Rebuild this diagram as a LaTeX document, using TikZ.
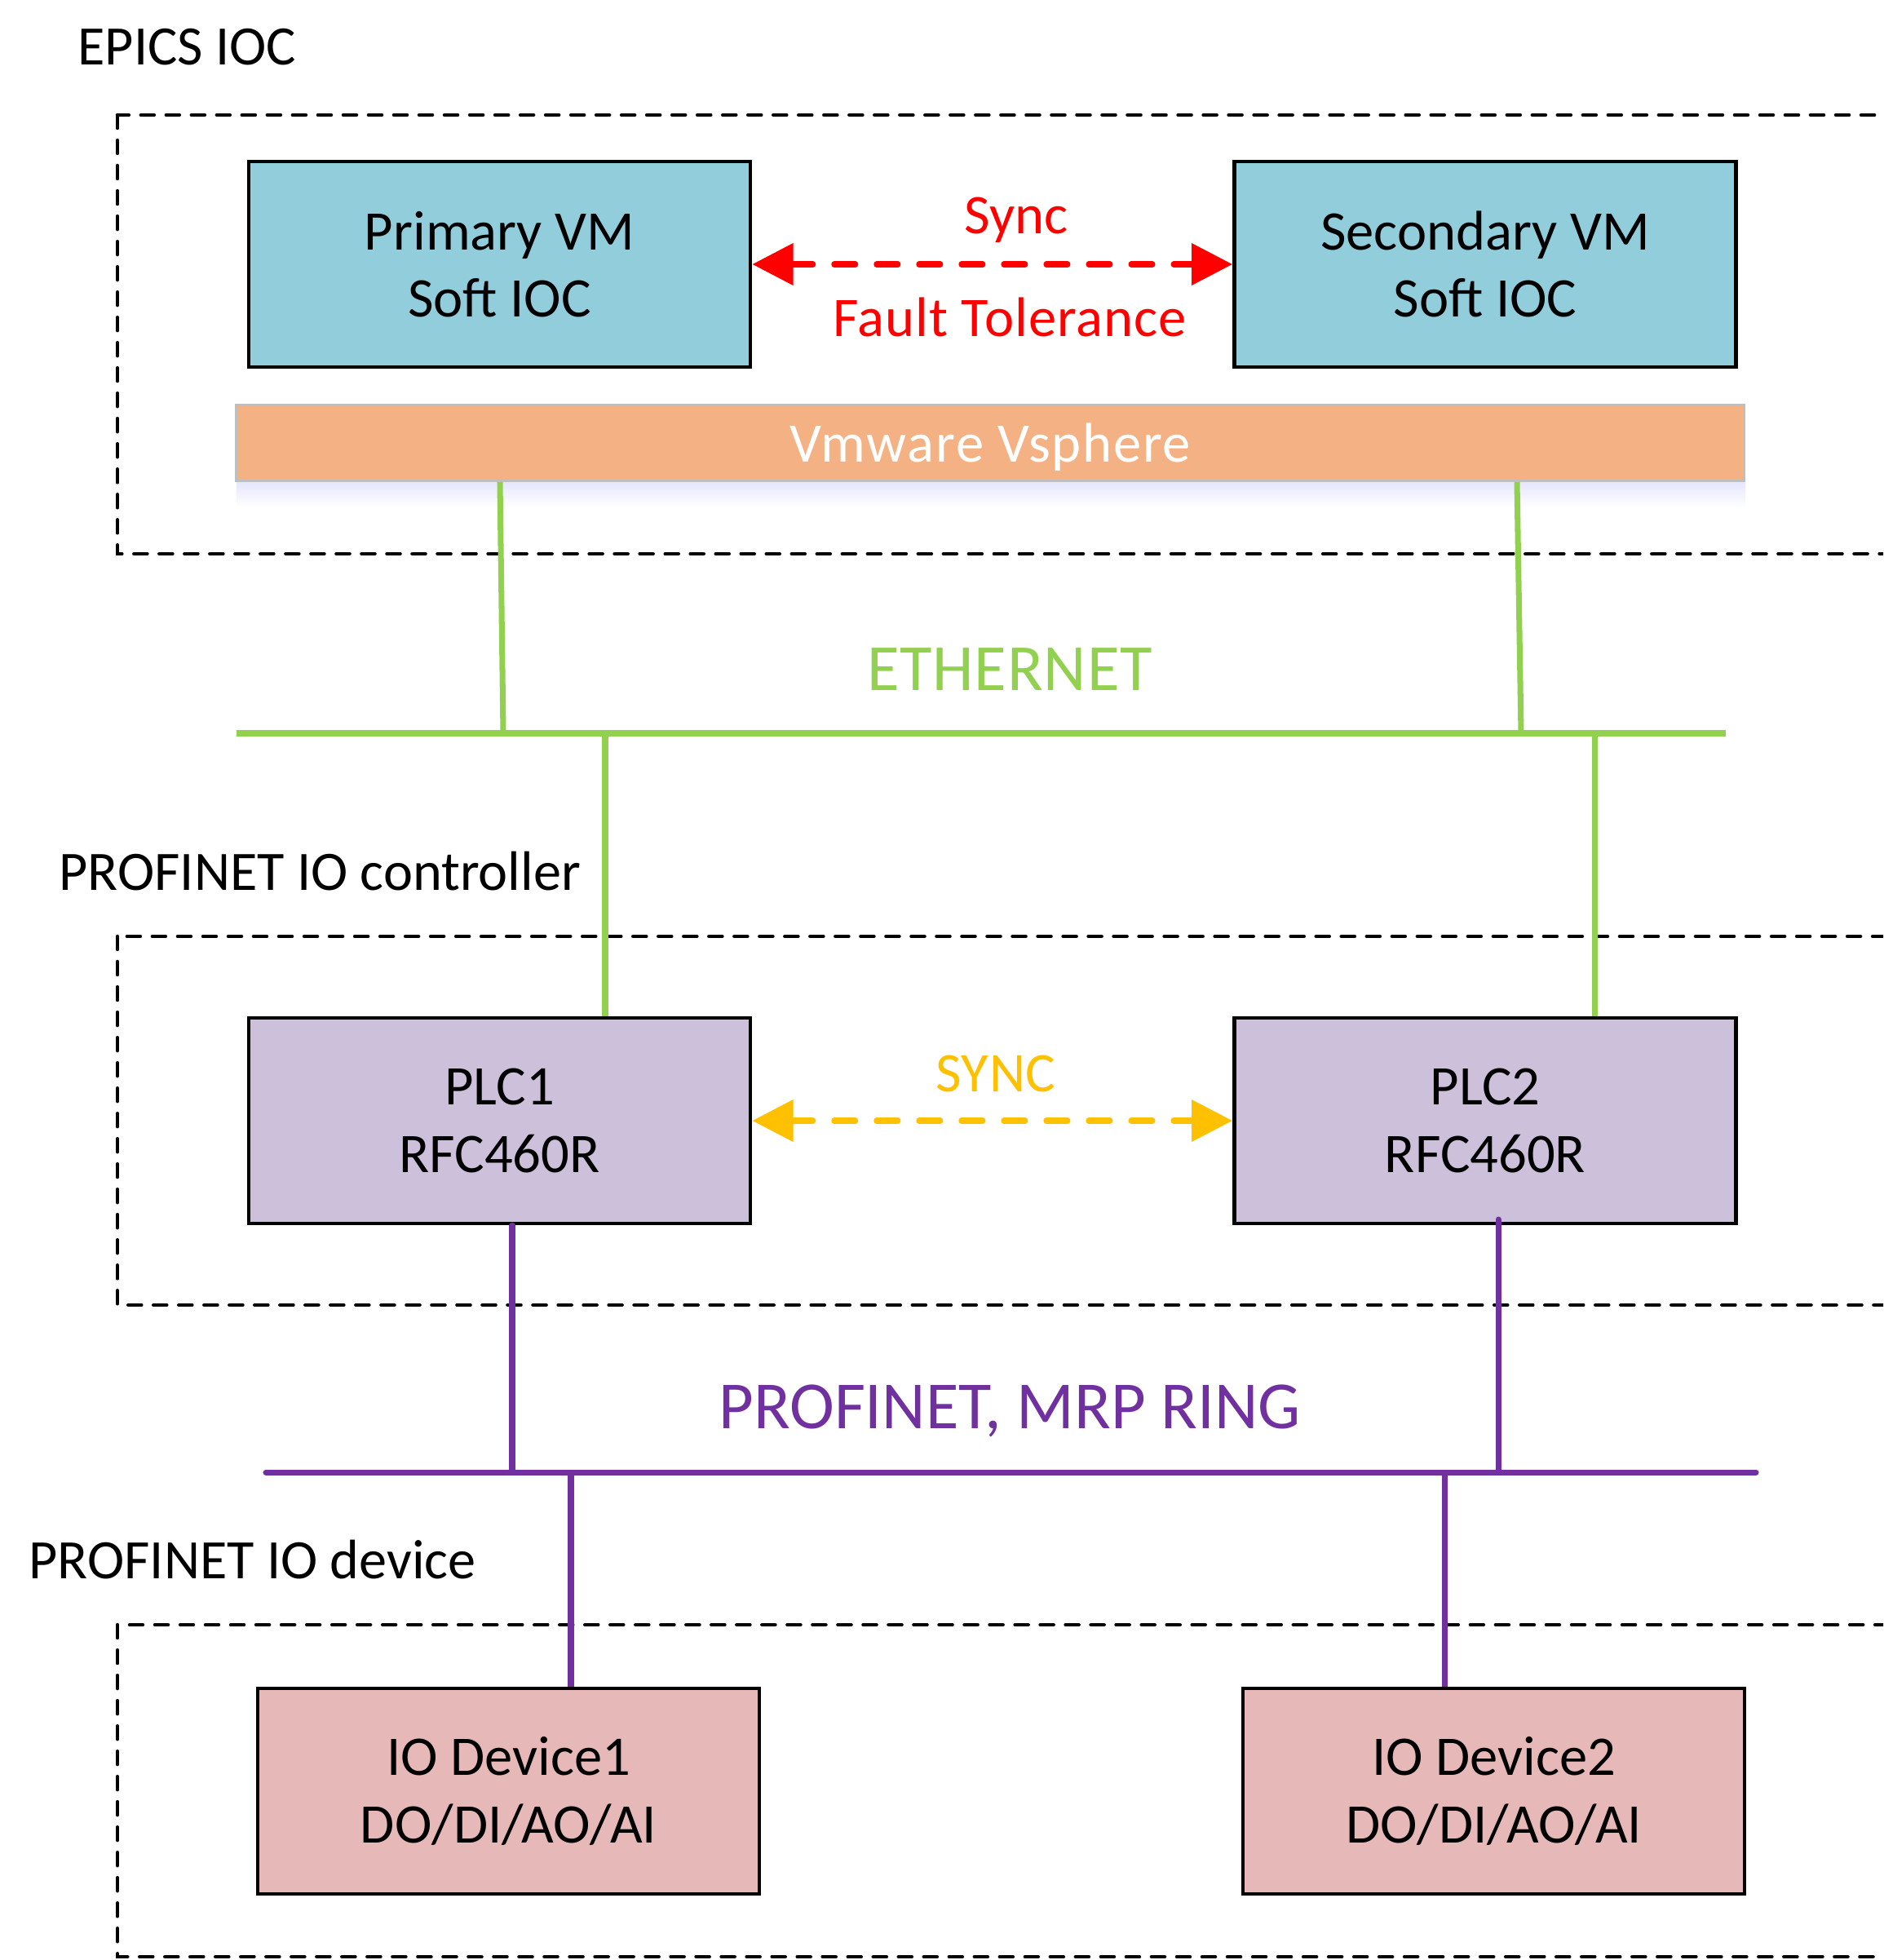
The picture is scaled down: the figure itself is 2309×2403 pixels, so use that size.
\documentclass[tikz,border=0pt]{standalone}
\usepackage{fontspec}
\setmainfont{Carlito}
\usetikzlibrary{arrows.meta}
\definecolor{vmblue}{HTML}{92CDDC}
\definecolor{vmorange}{HTML}{F4B183}
\definecolor{plcfill}{HTML}{CCC0DA}
\definecolor{iopink}{HTML}{E6B9B8}
\definecolor{ethgreen}{HTML}{92D050}
\definecolor{pnpurple}{HTML}{7030A0}
\definecolor{syncorange}{HTML}{FFC000}
\definecolor{barborder}{HTML}{BFBFBF}
\begin{document}
\begin{tikzpicture}[x=0.01cm,y=-0.01cm,
  box/.style={draw=black,line width=1.3pt,minimum width=6.15cm,minimum height=2.52cm,
    align=center,inner sep=0pt,font=\fontsize{19.5}{23.5}\selectfont},
  group/.style={draw=black,line width=1.3pt,line cap=round,dash pattern=on 0.16cm off 0.15cm},
  lbl/.style={inner sep=0pt,anchor=west,font=\fontsize{19.4}{24}\selectfont},
  syncarrow/.style={line width=2pt,line cap=round,dash pattern=on 0.26cm off 0.26cm,
    {Triangle[length=0.5cm,width=0.5cm,line cap=butt]}-{Triangle[length=0.5cm,width=0.5cm,line cap=butt]}},
  eth/.style={draw=ethgreen,line width=2pt},
  pn/.style={draw=pnpurple,line width=2pt}]
\clip (0,0) rectangle (2309,2403);
\fill[white] (0,0) rectangle (2309,2403);

% group frames
\draw[group] (144,141) rectangle (2420,679);
\draw[group] (144,1148) rectangle (2420,1600);
\draw[group] (144,1992) rectangle (2420,2399);

% group labels
\node[lbl] (lepics) at (95,58) {EPICS IOC};
\node[lbl] (lctrl) at (72,1068) {PROFINET IO controller};
\node[lbl] (ldev) at (35,1912) {PROFINET IO device};

% VM boxes
\node[box,fill=vmblue] (pvm) at (612.5,324) {Primary VM\\Soft IOC};
\node[box,fill=vmblue] (svm) at (1821,324) {Secondary VM\\Soft IOC};

% sync / fault tolerance
\draw[syncarrow,red] (pvm.east) -- (svm.west);
\node[text=red,inner sep=0pt,font=\fontsize{19.5}{24}\selectfont] (lsync) at (1246,270) {Sync};
\node[text=red,inner sep=0pt,font=\fontsize{19.5}{24}\selectfont\addfontfeatures{LetterSpace=1.5}] (lft) at (1238,389) {Fault Tolerance};

% vmware bar with soft shadow
\shade[top color=blue!10!white,bottom color=white] (290,591) rectangle (2140,622);
\node[draw=barborder,line width=1.1pt,fill=vmorange,minimum width=18.48cm,minimum height=0.93cm,inner sep=0pt,
  text depth=0pt,text=white,font=\fontsize{19.5}{24}\selectfont\addfontfeatures{LetterSpace=2.5}] (vmw) at (1214,543) {Vmware Vsphere};

% ethernet
\coordinate (ethl) at (290,899);
\coordinate (ethr) at (2116,899);
\coordinate (vt1) at (613,591);
\coordinate (vt2) at (1860,591);
\coordinate (eb1) at (617,899);
\coordinate (eb2) at (1865,899);
\coordinate (ed1) at (742,899);
\coordinate (ed2) at (1955,899);
\draw[eth] (ethl) -- (ethr);
\draw[eth] (vt1) -- (eb1);
\draw[eth] (vt2) -- (eb2);
\node[text=ethgreen,inner sep=0pt,font=\fontsize{23}{28}\selectfont\addfontfeatures{LetterSpace=1}] (leth) at (1238,821) {ETHERNET};

% PLCs
\node[box,fill=plcfill] (plc1) at (612.5,1374) {PLC1\\RFC460R};
\node[box,fill=plcfill] (plc2) at (1821,1374) {PLC2\\RFC460R};
\draw[eth] (ed1) -- (ed1 |- plc1.north);
\draw[eth] (ed2) -- (ed2 |- plc2.north);
\draw[syncarrow,syncorange] (plc1.east) -- (plc2.west);
\node[text=syncorange,inner sep=0pt,font=\fontsize{19.5}{24}\selectfont\addfontfeatures{LetterSpace=1}] (lsync2) at (1221,1316) {SYNC};

% profinet
\coordinate (pnl) at (326,1805);
\coordinate (pnr) at (2153,1805);
\coordinate (pu1) at (628,1805);
\coordinate (pu2) at (1837,1805);
\coordinate (pt2) at (1837,1495);
\coordinate (pd1) at (700,1805);
\coordinate (pd2) at (1771,1805);
\draw[pn,line cap=round] (pnl) -- (pnr);
\draw[pn,line cap=round] (pu1 |- plc1.south) -- (pu1);
\draw[pn,line cap=round] (pt2) -- (pu2);
\node[text=pnpurple,inner sep=0pt,font=\fontsize{23.5}{30}\selectfont] (lpn) at (1238,1730) {PROFINET, MRP RING};

% IO devices
\node[box,fill=iopink] (io1) at (623.5,2196) {IO Device1\\DO/DI/AO/AI};
\node[box,fill=iopink] (io2) at (1831.5,2196) {IO Device2\\DO/DI/AO/AI};
\draw[pn] (pd1) -- (pd1 |- io1.north);
\draw[pn] (pd2) -- (pd2 |- io2.north);
\end{tikzpicture}
\end{document}
